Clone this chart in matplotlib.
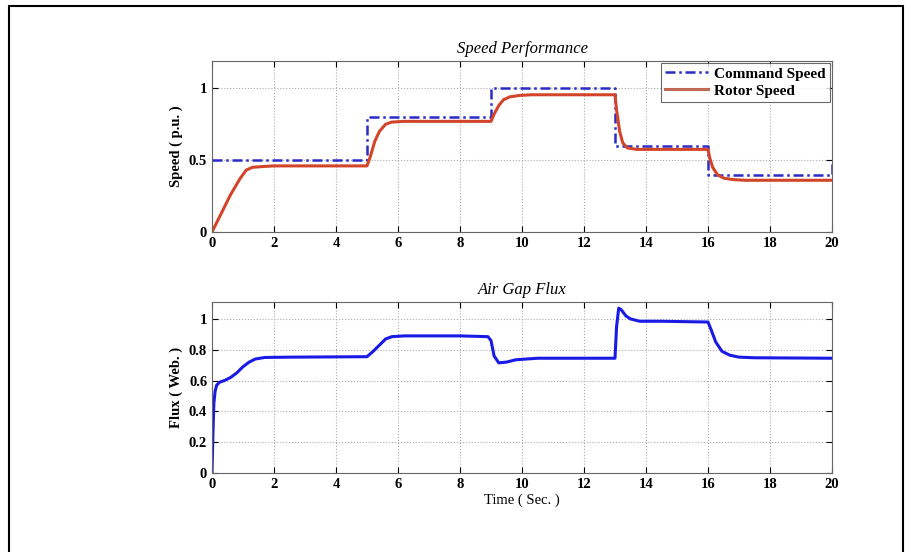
import matplotlib
matplotlib.use('Agg')
import matplotlib.pyplot as plt
from matplotlib.patches import Rectangle

# Command speed (step profile)
cmd_t = [0, 5, 5, 9, 9, 13, 13, 16, 16, 20, 20]
cmd_w = [0.5, 0.5, 0.8, 0.8, 1.0, 1.0, 0.6, 0.6, 0.4, 0.4, 0.5]

# Rotor speed
rot_t = [0, 0.3, 0.6, 0.9, 1.1, 1.3, 1.6, 2.0, 5.0, 5.1, 5.25, 5.4, 5.6, 5.8, 6.2, 9.0,
         9.1, 9.25, 9.4, 9.6, 9.9, 10.3, 13.0, 13.05, 13.15, 13.25, 13.4, 13.7,
         16.0, 16.05, 16.15, 16.3, 16.5, 16.8, 17.2, 20.0]
rot_w = [0.0, 0.13, 0.26, 0.37, 0.43, 0.45, 0.455, 0.46, 0.46, 0.52, 0.63, 0.70, 0.75, 0.765, 0.77, 0.77,
         0.82, 0.88, 0.92, 0.94, 0.95, 0.955, 0.955, 0.85, 0.70, 0.62, 0.585, 0.575,
         0.575, 0.52, 0.45, 0.40, 0.375, 0.365, 0.36, 0.36]

# Air gap flux
flx_t = [0, 0.03, 0.06, 0.1, 0.15, 0.25, 0.4, 0.6, 0.8, 1.0, 1.2, 1.4, 1.7, 2.5, 5.0,
         5.2, 5.4, 5.6, 5.8, 6.2, 8.0, 8.9, 9.0, 9.1, 9.25, 9.5, 9.8, 10.5, 13.0,
         13.05, 13.12, 13.2, 13.35, 13.5, 13.8, 14.5, 16.0, 16.1, 16.25, 16.45, 16.7, 17.0, 17.5, 20.0]
flx_v = [0.0, 0.25, 0.45, 0.53, 0.57, 0.59, 0.60, 0.62, 0.65, 0.69, 0.72, 0.74, 0.75, 0.752, 0.755,
         0.79, 0.83, 0.87, 0.885, 0.89, 0.89, 0.885, 0.86, 0.76, 0.715, 0.72, 0.735, 0.745, 0.745,
         0.95, 1.07, 1.06, 1.02, 1.0, 0.985, 0.985, 0.98, 0.93, 0.85, 0.79, 0.765, 0.752, 0.748, 0.745]

xticks = [0, 2, 4, 6, 8, 10, 12, 14, 16, 18, 20]

plt.rcParams['font.family'] = ['Liberation Serif', 'DejaVu Serif']

fig = plt.figure(figsize=(9.11, 5.52), dpi=100)
# outer frame of the scanned figure
fig.patches.append(Rectangle((0.01, -0.02), 0.981, 1.01, transform=fig.transFigure,
                             fill=False, edgecolor='black', linewidth=1.5))


def fmt(v):
    return ('%.1f' % v).rstrip('0').rstrip('.')


def style(ax, yticks, ylim):
    ax.set_xlim(0, 20)
    ax.set_ylim(*ylim)
    ax.set_xticks(xticks)
    ax.set_yticks(yticks)
    ax.set_yticklabels([fmt(v) for v in yticks])
    ax.grid(True, linestyle=':', color='#aaaaaa', linewidth=0.8)
    ax.tick_params(direction='in', length=4, labelsize=10.5, top=True, right=True)
    for lab in ax.get_xticklabels() + ax.get_yticklabels():
        lab.set_fontweight('bold')
    for sp in ax.spines.values():
        sp.set_color('#666666')
        sp.set_linewidth(0.8)


ax1 = fig.add_axes([0.2327, 0.5797, 0.6806, 0.3098])
ax1.plot(cmd_t, cmd_w, color='#2b2bc8', linestyle=(0, (4, 1.5, 1, 1.5)), linewidth=1.8,
         label='Command Speed')
ax1.plot(rot_t, rot_w, color='#d2452a', linewidth=2.2, label='Rotor Speed')
style(ax1, [0, 0.5, 1], (0, 1.19))
ax1.set_title('Speed Performance', fontstyle='italic', fontsize=12, pad=6)
ax1.set_ylabel('Speed ( p.u. )', fontweight='bold', fontsize=10.5)
leg = ax1.legend(loc='upper right', frameon=True, fancybox=False, borderaxespad=0.1,
                 prop={'weight': 'bold', 'size': 11}, handlelength=2.8,
                 borderpad=0.3, labelspacing=0.2, handletextpad=0.4)
leg.get_frame().set_edgecolor('#444444')
leg.get_frame().set_linewidth(0.8)
leg.get_lines()[1].set_color('#c06a55')

ax2 = fig.add_axes([0.2327, 0.1431, 0.6806, 0.3098])
ax2.plot(flx_t, flx_v, color='#1a1ae6', linewidth=2.2)
style(ax2, [0, 0.2, 0.4, 0.6, 0.8, 1.0], (0, 1.11))
ax2.set_title('Air Gap Flux', fontstyle='italic', fontsize=12, pad=6)
ax2.set_ylabel('Flux ( Web. )', fontweight='bold', fontsize=10.5)
ax2.set_xlabel('Time ( Sec. )', fontsize=10.5, labelpad=2)

fig.savefig('out.png', dpi=100)
